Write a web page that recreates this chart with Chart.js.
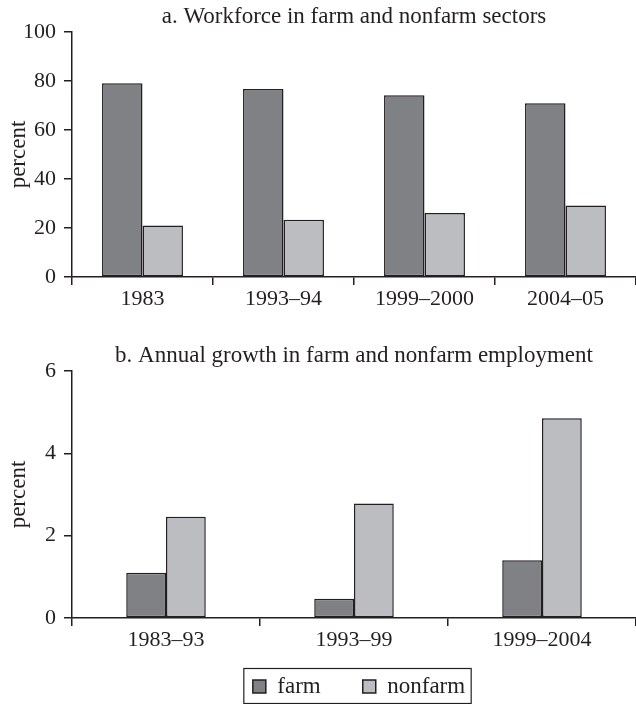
<!DOCTYPE html>
<html>
<head>
<meta charset="utf-8">
<script src="https://cdn.jsdelivr.net/npm/chart.js@4.4.1/dist/chart.umd.min.js"></script>
<style>
  html, body { margin: 0; padding: 0; background: #ffffff; }
  #wrapA { position: absolute; left: 0; top: 0; width: 636px; height: 310px; }
  #wrapB { position: absolute; left: 0; top: 330px; width: 636px; height: 374px; }
</style>
</head>
<body>
<div id="wrapA"><canvas id="chartA" width="636" height="310"></canvas></div>
<div id="wrapB"><canvas id="chartB" width="636" height="374"></canvas></div>
<script>
// ---- Data ----
const titleA = 'a. Workforce in farm and nonfarm sectors';
const titleB = 'b. Annual growth in farm and nonfarm employment';
const yAxisLabel = 'percent';
const seriesNames = ['farm', 'nonfarm'];

const categoriesA = ['1983', '1993–94', '1999–2000', '2004–05'];
const farmA = [79.1, 76.7, 74.2, 70.9];
const nonfarmA = [21.0, 23.4, 26.1, 29.2];

const categoriesB = ['1983–93', '1993–99', '1999–2004'];
const farmB = [1.1, 0.47, 1.4];
const nonfarmB = [2.46, 2.78, 4.85];

// ---- Styles ----
const INK = '#231f20';
const FARM_COLOR = '#808184';
const NONFARM_COLOR = '#bcbdc0';
const FONT = "'Liberation Serif', 'Times New Roman', serif";

Chart.defaults.font.family = FONT;
Chart.defaults.color = INK;
Chart.defaults.animation = false;

function makeDatasets(farm, nonfarm, catPct) {
  return [
    { label: seriesNames[0], data: farm, backgroundColor: FARM_COLOR, borderColor: INK,
      borderWidth: 1.5, borderSkipped: false, categoryPercentage: catPct, barPercentage: 1 },
    { label: seriesNames[1], data: nonfarm, backgroundColor: NONFARM_COLOR, borderColor: INK,
      borderWidth: 1.5, borderSkipped: false, categoryPercentage: catPct, barPercentage: 1 }
  ];
}

function axisGrid() {
  return { drawOnChartArea: false, drawTicks: true, tickLength: 8, color: INK, lineWidth: 1.5 };
}

function makeScales(max, step, xHeight) {
  return {
    x: {
      grid: Object.assign(axisGrid(), { offset: true }),
      border: { display: true, color: INK, width: 1.5 },
      ticks: { font: { size: 22, family: FONT }, color: INK, padding: 1, maxRotation: 0 },
      afterFit: (s) => { s.height = xHeight; }
    },
    y: {
      min: 0, max: max,
      grid: axisGrid(),
      border: { display: true, color: INK, width: 1.5 },
      ticks: { stepSize: step, font: { size: 22, family: FONT }, color: INK, padding: 8 },
      title: { display: true, text: yAxisLabel, font: { size: 23, family: FONT }, color: INK,
               padding: { top: 5, bottom: 0 } },
      afterFit: (s) => { s.width = 72; }
    }
  };
}

new Chart(document.getElementById('chartA'), {
  type: 'bar',
  data: { labels: categoriesA, datasets: makeDatasets(farmA, nonfarmA, 0.574) },
  options: {
    responsive: false,
    devicePixelRatio: 1,
    layout: { padding: 0 },
    scales: makeScales(100, 20, 33),
    plugins: {
      legend: { display: false },
      tooltip: { enabled: false },
      title: { display: true, text: titleA, fullSize: false, color: INK,
               font: { size: 23, family: FONT, weight: 'normal' },
               padding: { top: 3, bottom: 1.4 } }
    }
  }
});

// Moves the legend box into place (it overlaps the spare space below the axis labels)
const legendPlace = {
  id: 'legendPlace',
  afterLayout(chart) {
    const lg = chart.legend;
    if (!lg) return;
    lg.top = 303;
    lg.bottom = chart.height;
    lg.height = lg.bottom - lg.top;
    lg.left += 5; lg.right += 5;
  }
};

const legendBorder = {
  id: 'legendBorder',
  afterDraw(chart) {
    const lg = chart.legend;
    if (!lg || !lg.legendHitBoxes || !lg.legendHitBoxes.length) return;
    const hb = lg.legendHitBoxes;
    const first = hb[0], last = hb[hb.length - 1];
    const x0 = first.left - 9;
    const x1 = last.left + last.width + 6;
    const y0 = first.top - 6.5;
    const y1 = first.top + first.height + 5.5;
    const ctx = chart.ctx;
    ctx.save();
    ctx.strokeStyle = INK;
    ctx.lineWidth = 1.2;
    ctx.strokeRect(x0, y0, x1 - x0, y1 - y0);
    ctx.restore();
  }
};

new Chart(document.getElementById('chartB'), {
  type: 'bar',
  data: { labels: categoriesB, datasets: makeDatasets(farmB, nonfarmB, 0.423) },
  options: {
    responsive: false,
    devicePixelRatio: 1,
    layout: { padding: 0 },
    scales: makeScales(6, 2, 47),
    plugins: {
      tooltip: { enabled: false },
      title: { display: true, text: titleB, fullSize: false, color: INK,
               font: { size: 23, family: FONT, weight: 'normal' },
               padding: { top: 12.2, bottom: 1.2 } },
      legend: {
        display: true, position: 'bottom', fullSize: false, maxHeight: 39,
        labels: { font: { size: 23, family: FONT }, color: INK, boxWidth: 13, boxHeight: 13, padding: 42 }
      }
    }
  },
  plugins: [legendPlace, legendBorder]
});
</script>
</body>
</html>
